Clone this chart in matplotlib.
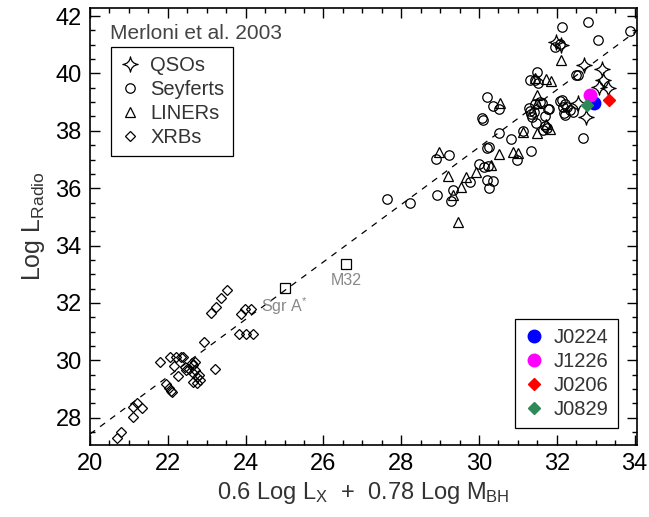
import matplotlib
matplotlib.use("Agg")
import matplotlib.pyplot as plt
import numpy as np
from matplotlib.path import Path

plt.rcParams['font.family'] = ['Liberation Sans', 'DejaVu Sans']
plt.rcParams['mathtext.fontset'] = 'custom'
plt.rcParams['mathtext.rm'] = 'Liberation Sans'
plt.rcParams['mathtext.it'] = 'Liberation Sans'

# ---- data ----
qso_x = [31.98, 32.10, 32.70, 33.15, 33.18, 33.32, 33.09, 32.55, 32.75]
qso_y = [41.08, 41.00, 40.29, 40.17, 39.77, 39.48, 39.52, 38.96, 38.49]

sey_x = [27.64, 28.23, 28.91, 28.89, 29.24, 29.34, 29.27, 29.77,
         30.01, 30.13, 30.24, 30.20, 30.35, 30.25, 30.21, 30.52, 30.81, 30.97, 31.33,
         30.21, 30.35, 30.52, 30.07, 30.09,
         31.31, 31.33, 31.35, 31.40, 31.47, 31.78, 32.08, 31.12, 31.64, 31.74, 31.70,
         32.13, 32.08, 31.95, 31.49, 31.31, 31.44, 31.52,
         31.29, 31.44, 31.57, 31.61, 31.81,
         32.13, 32.21, 32.19, 32.34, 32.17, 32.27, 32.41, 32.21,
         32.49, 32.55, 32.79, 33.88, 33.07, 32.66, 30.26, 31.70]
sey_y = [35.61, 35.49, 35.75, 37.02, 37.14, 35.93, 35.56, 36.22,
         36.86, 36.75, 36.77, 36.28, 36.26, 35.99, 37.39, 37.91, 37.70, 37.00, 37.30,
         39.19, 38.86, 38.75, 38.43, 38.36,
         38.70, 38.58, 38.49, 38.66, 38.28, 38.75, 39.05, 38.00, 38.03, 38.09, 38.16,
         41.63, 41.02, 40.93, 40.04, 39.77, 39.77, 39.68,
         38.78, 38.95, 39.01, 38.98, 38.75,
         39.07, 38.95, 38.63, 38.72, 38.84, 38.82, 38.66, 38.55,
         39.94, 39.94, 41.80, 41.49, 41.16, 37.74, 37.44, 38.51]

lin_x = [28.96, 29.21, 29.45, 29.32, 29.53, 29.67, 29.92, 30.32, 30.52, 30.86, 31.01,
         30.53, 31.14, 31.48, 31.72, 31.83, 31.49, 31.48, 31.44, 31.72, 31.84, 32.11]
lin_y = [37.27, 36.42, 34.82, 35.76, 36.03, 36.38, 36.57, 36.81, 37.19, 37.27, 37.24,
         38.97, 37.97, 37.91, 38.23, 38.05, 39.26, 38.96, 39.85, 39.81, 39.73, 40.47]

xrb_x = [20.70, 20.80, 21.10, 21.10, 21.21, 21.33,
         21.81, 22.05, 22.20, 22.34, 22.40, 22.16, 22.27,
         21.96, 22.02, 22.07, 22.12,
         22.45, 22.47,
         22.55, 22.61, 22.66, 22.70, 22.74, 22.64, 22.76, 22.83, 22.79, 22.66, 22.70,
         22.93, 23.21,
         23.11, 23.24, 23.36, 23.51,
         23.88, 23.98, 24.13,
         23.84, 24.01, 24.20]
xrb_y = [27.28, 27.51, 28.04, 28.38, 28.50, 28.33,
         29.93, 30.11, 30.12, 30.12, 30.10, 29.80, 29.47,
         29.16, 29.04, 28.93, 28.88,
         29.76, 29.66,
         29.69, 29.92, 29.84, 29.67, 29.43, 29.25, 29.22, 29.31, 29.49, 29.55, 29.95,
         30.63, 29.69,
         31.64, 31.85, 32.18, 32.45,
         31.61, 31.79, 31.78,
         30.91, 30.91, 30.91]

named_labels = ['Sgr A$^{*}$', 'M32']
named_x = [25.01, 26.58]
named_y = [32.52, 33.36]

new_labels = ['J0224', 'J1226', 'J0206', 'J0829']
new_x = [32.96, 32.84, 33.35, 32.77]
new_y = [38.96, 39.24, 39.07, 38.90]
new_colors = ['#0000ff', '#ff00ff', '#ff0000', '#2e8b57']
new_markers = ['o', 'o', 'D', 'D']
new_sizes = [9, 9, 6.5, 6.0]

fit_offset = 7.43  # dashed relation y = x + offset

# ---- 4-point concave star marker ----
c = 0.12
verts = [(0, 1), (c, c), (1, 0), (c, -c), (0, -1), (-c, -c), (-1, 0), (-c, c), (0, 1), (0, 1)]
codes = [Path.MOVETO, Path.CURVE3, Path.LINETO, Path.CURVE3, Path.LINETO,
         Path.CURVE3, Path.LINETO, Path.CURVE3, Path.LINETO, Path.CLOSEPOLY]
star4 = Path(verts, codes)

fig = plt.figure(figsize=(6.49, 5.17), dpi=100)
ax = fig.add_axes([90/649, 72/517, 547/649, 437/517])

xl = np.array([20, 34.06])
ax.plot(xl, xl + fit_offset, ls=(0, (5, 5)), color='black', lw=0.9, zorder=1)

mew = 0.9
h_q, = ax.plot(qso_x, qso_y, ls='none', marker=star4, ms=11, mfc='none', mec='black', mew=mew, label='QSOs')
h_s, = ax.plot(sey_x, sey_y, ls='none', marker='o', ms=6.8, mfc='none', mec='black', mew=mew, label='Seyferts')
h_l, = ax.plot(lin_x, lin_y, ls='none', marker='^', ms=7.5, mfc='none', mec='black', mew=mew, label='LINERs')
h_x, = ax.plot(xrb_x, xrb_y, ls='none', marker='D', ms=5.2, mfc='none', mec='black', mew=mew, label='XRBs')

ax.plot(named_x, named_y, ls='none', marker='s', ms=6.5, mfc='none', mec='black', mew=mew)
ax.text(named_x[0] - 0.02, named_y[0] - 0.25, named_labels[0], color='#888888', fontsize=11.5,
        ha='center', va='top')
ax.text(named_x[1], named_y[1] - 0.3, named_labels[1], color='#888888', fontsize=11.5,
        ha='center', va='top')

new_handles = []
for xv, yv, col, mk, ms, lab in zip(new_x, new_y, new_colors, new_markers, new_sizes, new_labels):
    h, = ax.plot([xv], [yv], ls='none', marker=mk, ms=ms, mfc=col, mec=col, label=lab, zorder=5)
    new_handles.append(h)

ax.text(0.036, 0.963, 'Merloni et al. 2003', transform=ax.transAxes, fontsize=15,
        color='#444444', ha='left', va='top')

leg1 = ax.legend(handles=[h_q, h_s, h_l, h_x], loc='upper left', bbox_to_anchor=(0.0384, 0.911),
                 borderaxespad=0, fancybox=False, edgecolor='black', fontsize=14.5,
                 handlelength=1.0, handletextpad=0.5, labelspacing=0.25, borderpad=0.45,
                 framealpha=1, labelcolor='#333333')
leg1.get_frame().set_linewidth(0.9)
ax.add_artist(leg1)

leg2 = ax.legend(handles=new_handles, loc='lower right', bbox_to_anchor=(0.965, 0.039),
                 borderaxespad=0, fancybox=False, edgecolor='black', fontsize=14.5,
                 handlelength=1.0, handletextpad=0.5, labelspacing=0.25, borderpad=0.45,
                 framealpha=1, labelcolor='#333333')
leg2.get_frame().set_linewidth(0.9)

ax.set_xlim(20, 34.06)
ax.set_ylim(27.05, 42.28)
ax.set_xticks(np.arange(20, 35, 2))
ax.set_yticks(np.arange(28, 43, 2))
ax.set_xticks(np.arange(20, 34.1, 0.5), minor=True)
ax.set_yticks(np.arange(27.5, 42.3, 0.5), minor=True)
ax.tick_params(which='both', direction='in', top=True, right=True, width=1.0, color='black')
ax.tick_params(which='major', length=7, labelsize=17, pad=6)
ax.tick_params(which='minor', length=3.5)
for s in ax.spines.values():
    s.set_linewidth(1.2)

ax.set_xlabel('0.6 Log L$_{\\rm X}$  +  0.78 Log M$_{\\rm BH}$', fontsize=17, color='#333333', labelpad=3)
ax.set_ylabel('Log L$_{\\rm Radio}$', fontsize=18, color='#333333', labelpad=6)

fig.savefig('out.png', dpi=100)
